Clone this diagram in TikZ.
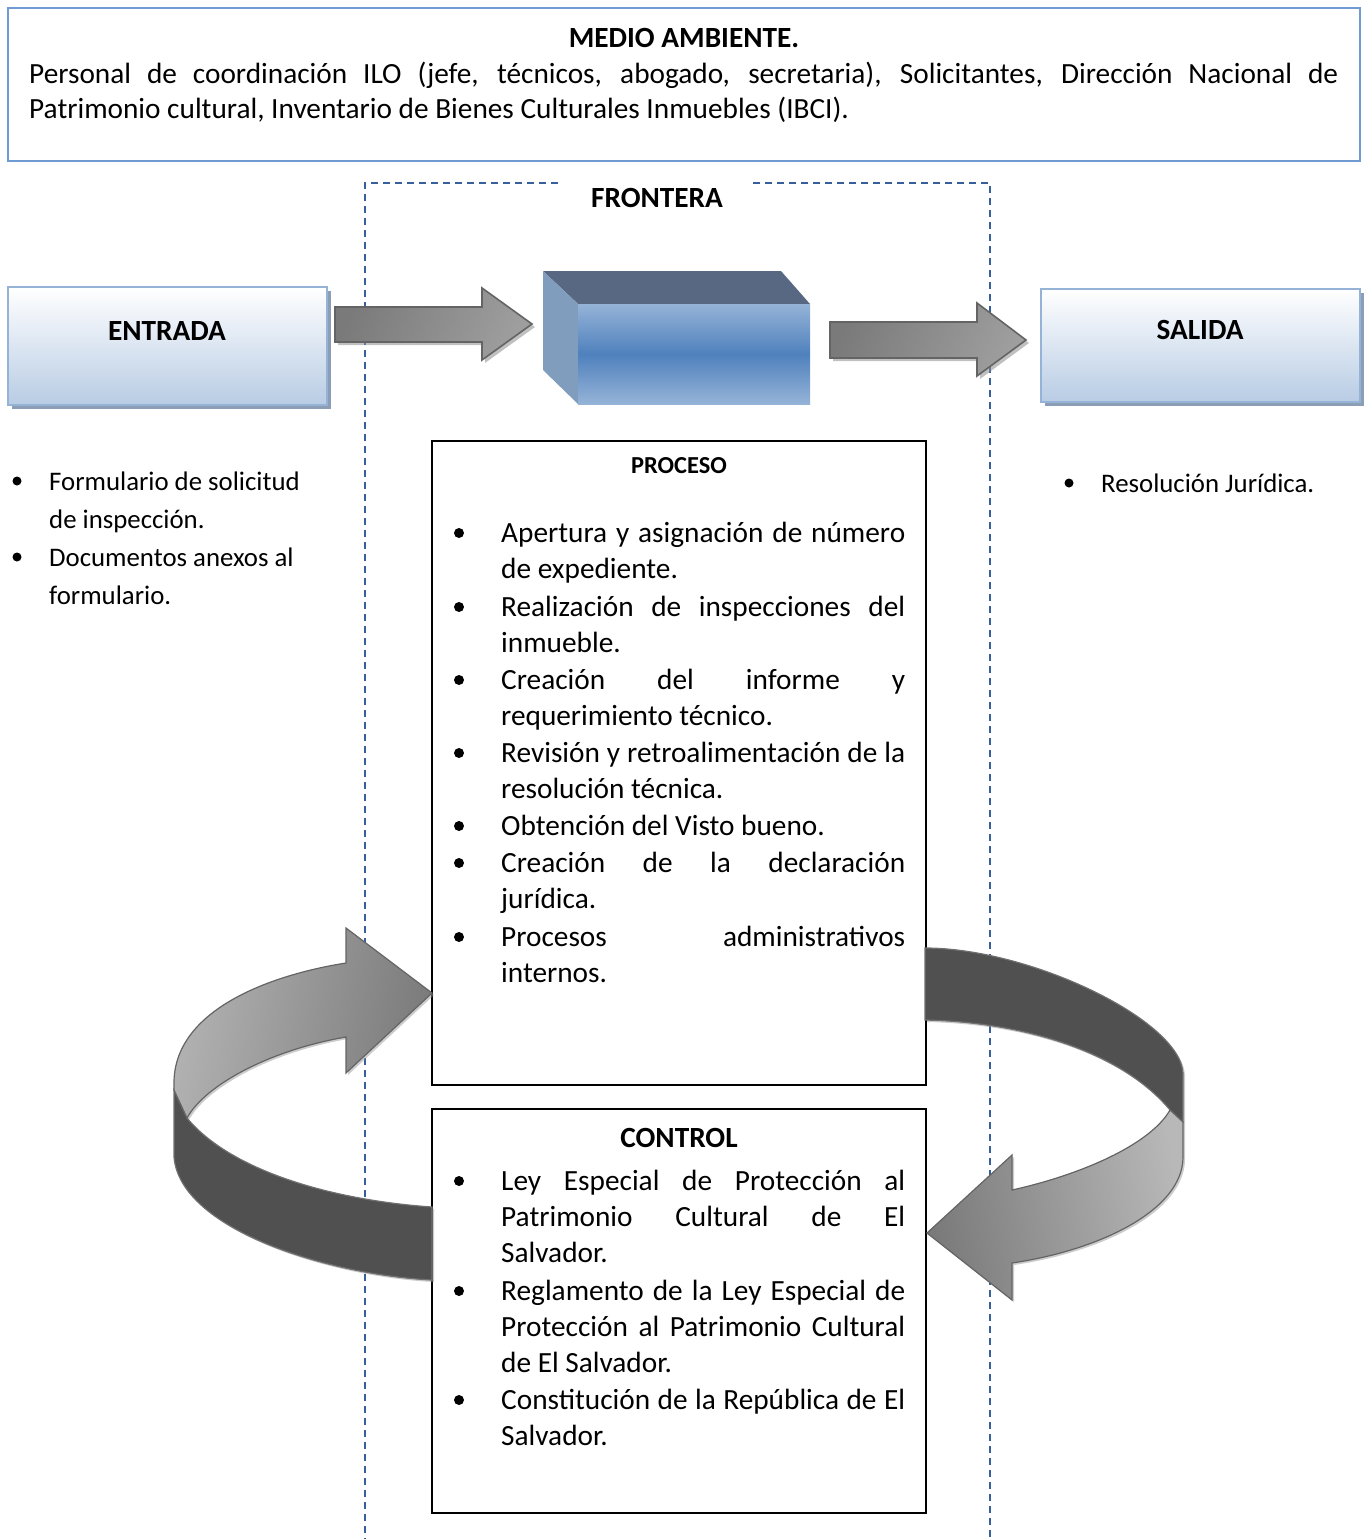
\documentclass[tikz,border=0pt]{standalone}
\usepackage{fontspec}
\setmainfont{Carlito}
\usetikzlibrary{shadows}

\definecolor{envBlue}{RGB}{111,155,210}
\definecolor{frontierBlue}{RGB}{55,95,155}
\definecolor{ioEdge}{RGB}{149,179,215}
\definecolor{ioFill}{RGB}{184,204,228}
\definecolor{ioShadow}{RGB}{140,158,182}
\definecolor{cubeLight}{RGB}{149,179,215}
\definecolor{cubeMid}{RGB}{79,129,189}
\definecolor{cubeTop}{RGB}{89,104,130}
\definecolor{cubeSide}{RGB}{128,157,190}
\definecolor{arrowEdge}{RGB}{100,100,100}
\definecolor{bandDark}{RGB}{80,80,80}
\definecolor{bandEdge}{RGB}{112,112,112}

\newcommand{\bodyfont}{\fontsize{29.3}{36}\selectfont}
\newcommand{\listfont}{\fontsize{26.8}{38}\selectfont}

% one bulleted entry: name, x of text, baseline of first line, lines
\newcommand{\bulletentry}[4]{%
  \fill (#2-42,#3-9) circle (5);
  \node[itemtext] (#1) at (#2,#3) {\parbox[t]{404pt}{\bodyfont #4}};
}
\newcommand{\jl}[1]{\makebox[404pt][s]{#1}}

\begin{document}
\begin{tikzpicture}[x=1pt,y=-1pt,
  frontier/.style={draw=frontierBlue, line width=1.4pt, dash pattern=on 7pt off 5pt},
  envbox/.style={draw=envBlue, line width=1.8pt, rectangle, inner sep=0},
  iobox/.style={draw=ioEdge, line width=1.5pt, rectangle, inner sep=0,
    top color=white, bottom color=ioFill,
    drop shadow={shadow xshift=4pt, shadow yshift=-4pt, fill=ioShadow, opacity=1}},
  blackbox/.style={draw=black, line width=1.6pt, fill=white, rectangle, inner sep=0},
  blockarrow/.style={draw=arrowEdge, line width=1.6pt, line join=miter,
    left color=black!52, middle color=black!20, right color=black!38, shading angle=65,
    drop shadow={shadow xshift=3pt, shadow yshift=-3pt, fill=black!45, opacity=0.55}},
  ribbonlight/.style={draw=arrowEdge, line width=1.2pt,
    drop shadow={shadow xshift=2pt, shadow yshift=-2pt, fill=black!40, opacity=0.5}},
  ribbondark/.style={draw=bandEdge, line width=1.2pt, fill=bandDark,
    drop shadow={shadow xshift=2pt, shadow yshift=-2pt, fill=black!40, opacity=0.5}},
  title/.style={inner sep=0, anchor=base, font=\bodyfont\bfseries},
  itemtext/.style={inner sep=0, anchor=base west},
  plain/.style={inner sep=0, anchor=base west, font=\bodyfont}]

\useasboundingbox (0,0) rectangle (1364,1539);

% ---------- boundary of the system ----------
\draw[frontier] (558,183) -- (365,183) -- (365,1539);
\draw[frontier] (753,183) -- (990,183) -- (990,1539);

% ---------- environment ----------
\node[envbox, minimum width=1352pt, minimum height=153pt] (medio) at (684,84.5) {};
\node[title] (medioT) at (684,47) {MEDIO AMBIENTE.};
\node[plain] (medioTxt) at (29,83) {\parbox[t]{1309pt}{\fontsize{29.3}{35}\selectfont
  \makebox[1309pt][s]{Personal de coordinación ILO (jefe, técnicos, abogado, secretaria), Solicitantes, Dirección Nacional de}\\
  Patrimonio cultural, Inventario de Bienes Culturales Inmuebles (IBCI).}};

\node[title] (fronteraT) at (657,207) {FRONTERA};

% ---------- input / output ----------
\node[iobox, minimum width=319pt, minimum height=118pt] (entrada) at (167.5,346) {};
\node[title] (entradaT) at (167,340) {ENTRADA};
\node[iobox, minimum width=319pt, minimum height=113pt] (salida) at (1200.5,345.5) {};
\node[title] (salidaT) at (1200,339) {SALIDA};

% ---------- the process block ----------
\fill[cubeTop] (543,271) -- (781,271) -- (810,304) -- (578,304) -- cycle;
\fill[cubeSide] (543,271) -- (578,304) -- (578,404) -- (543,370) -- cycle;
\shade[top color=cubeLight, bottom color=cubeLight, middle color=cubeMid] (578,304) rectangle (810,404);

% ---------- straight block arrows ----------
\path[blockarrow] (335,307) -- (482,307) -- (482,288) -- (532,324) -- (482,360) -- (482,342) -- (335,342) -- cycle;
\path[blockarrow] (830,322) -- (977,322) -- (977,303) -- (1026,340) -- (977,376) -- (977,358) -- (830,358) -- cycle;

% ---------- process and control boxes ----------
\node[blackbox, minimum width=494pt, minimum height=644pt] (proceso) at (679,763) {};
\node[blackbox, minimum width=494pt, minimum height=404pt] (control) at (679,1311) {};

% ---------- feedback ribbons ----------
% left: from control back up to process
\path[ribbondark] (174,1090) -- (174,1157) .. controls (180,1230) and (330,1275) .. (432,1280)
  -- (432,1207) .. controls (330,1200) and (230,1170) .. (187,1118) -- cycle;
\path[ribbonlight, left color=black!30, middle color=black!20, right color=black!52, shading angle=80]
  (432,993) -- (346,928) -- (346,963) .. controls (270,975) and (174,1010) .. (174,1083)
  -- (174,1090) -- (187,1118) .. controls (205,1085) and (270,1050) .. (346,1037)
  -- (346,1073) -- cycle;
% right: from process down to control
\path[ribbondark] (925,948) .. controls (1030,948) and (1180,1020) .. (1183,1073)
  -- (1183,1122) -- (1170,1110) .. controls (1120,1050) and (1020,1022) .. (925,1020) -- cycle;
\path[ribbonlight, left color=black!52, middle color=black!20, right color=black!28, shading angle=100]
  (927,1233) -- (1012,1155) -- (1012,1190) .. controls (1080,1175) and (1150,1145) .. (1170,1110)
  -- (1183,1122) -- (1183,1157) .. controls (1183,1210) and (1100,1250) .. (1012,1263)
  -- (1012,1300) -- cycle;

% ---------- texts of the input and output ----------
\fill (17,481) circle (4.5);
\node[itemtext, font=\listfont] (in1) at (49,490) {\parbox[t]{300pt}{\listfont Formulario de solicitud\\de inspección.}};
\fill (17,557) circle (4.5);
\node[itemtext, font=\listfont] (in2) at (49,566) {\parbox[t]{300pt}{\listfont Documentos anexos al\\formulario.}};
\fill (1069,483) circle (4.5);
\node[itemtext, font=\listfont] (out1) at (1101,492) {Resolución Jurídica.};

% ---------- process steps ----------
\node[inner sep=0, anchor=base, font=\fontsize{24.4}{29}\selectfont\bfseries] (procesoT) at (679,473) {PROCESO};
\bulletentry{p1}{501}{542}{\jl{Apertura y asignación de número}\\de expediente.}
\bulletentry{p2}{501}{616}{\jl{Realización de inspecciones del}\\inmueble.}
\bulletentry{p3}{501}{689}{\jl{Creación del informe y}\\requerimiento técnico.}
\bulletentry{p4}{501}{762}{\jl{Revisión y retroalimentación de la}\\resolución técnica.}
\bulletentry{p5}{501}{835}{Obtención del Visto bueno.}
\bulletentry{p6}{501}{872}{\jl{Creación de la declaración}\\jurídica.}
\bulletentry{p7}{501}{946}{\jl{Procesos administrativos}\\internos.}

% ---------- controls ----------
\node[title] (controlT) at (679,1147) {CONTROL};
\bulletentry{c1}{501}{1190}{\jl{Ley Especial de Protección al}\\\jl{Patrimonio Cultural de El}\\Salvador.}
\bulletentry{c2}{501}{1300}{\jl{Reglamento de la Ley Especial de}\\\jl{Protección al Patrimonio Cultural}\\de El Salvador.}
\bulletentry{c3}{501}{1409}{\jl{Constitución de la República de El}\\Salvador.}

\end{tikzpicture}
\end{document}
